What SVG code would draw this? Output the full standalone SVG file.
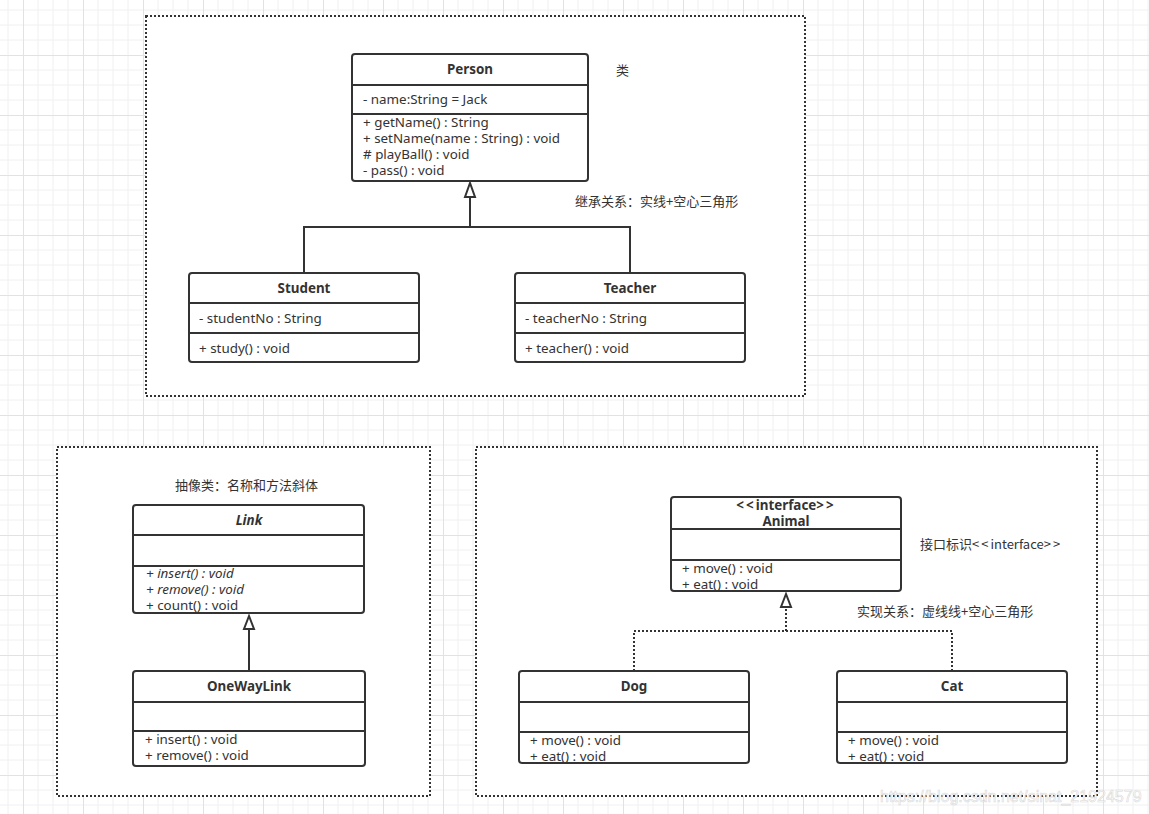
<svg xmlns="http://www.w3.org/2000/svg" width="1149" height="814" viewBox="0 0 1149 814">
<defs>
<pattern id="grid" patternUnits="userSpaceOnUse" x="23" y="55" width="60" height="60">
<path d="M15 0V60M30 0V60M45 0V60M0 15H60M0 30H60M0 45H60" stroke="#f0f0f0" stroke-width="1" fill="none"/>
<path d="M0.5 0V60M0 0.5H60" stroke="#e2e2e2" stroke-width="1" fill="none"/>
</pattern>
</defs>
<style>
.frame{fill:#fff;stroke:#333;stroke-width:2;stroke-dasharray:2 2}
.box{fill:#fff;stroke:#333;stroke-width:2}
.div{stroke:#333;stroke-width:2}
.t{font-family:"Noto Sans","Noto Sans CJK SC",sans-serif;font-size:13.4px;fill:#333}
.b{font-weight:bold;text-anchor:middle}
.cjk{font-family:"Noto Sans CJK SC","Noto Sans",sans-serif;font-size:13px;fill:#333}
.conn{fill:none;stroke:#333;stroke-width:2}
.dash{stroke-dasharray:2 2}
.tri{fill:#fff;stroke:#333;stroke-width:2}
.ls{letter-spacing:2px}
</style>
<rect width="1149" height="814" fill="#fff"/>
<rect width="1149" height="814" fill="url(#grid)"/>

<g id="frames">
<rect class="frame" x="146" y="16" width="659" height="380"/>
<rect class="frame" x="57" y="447" width="373" height="349"/>
<rect class="frame" x="476" y="447" width="621" height="349"/>
</g>

<g id="labels">
<text class="cjk" x="616" y="75">类</text>
<text class="cjk" x="575" y="206">继承关系：实线+空心三角形</text>
<text class="cjk" x="175" y="490">抽像类：名称和方法斜体</text>
<text class="cjk" x="920" y="549">接口标识<tspan class="ls">&lt;&lt;</tspan>interface<tspan class="ls">&gt;&gt;</tspan></text>
<text class="cjk" x="857" y="616">实现关系：虚线线+空心三角形</text>
</g>

<g id="connectors">
<path class="conn" d="M304 273V227H630V273M470 227V197"/>
<polygon class="tri" points="470,183 465,197 475,197"/>
<path class="conn" d="M249 671V629"/>
<polygon class="tri" points="249,616 244,629 254,629"/>
<path class="conn dash" d="M634 671V631H952V671M786 631V607"/>
<polygon class="tri" points="786,594 781,607 791,607"/>
</g>

<g id="Person">
<rect class="box" x="352" y="54" width="236" height="127" rx="3"/>
<path class="div" d="M352 85H588M352 114H588"/>
<text class="t b" x="470" y="74">Person</text>
<text class="t" x="363" y="104">- name:String = Jack</text>
<text class="t" x="363" y="127">+ getName() : String</text>
<text class="t" x="363" y="143">+ setName(name : String) : void</text>
<text class="t" x="363" y="159"># playBall() : void</text>
<text class="t" x="363" y="175">- pass() : void</text>
</g>

<g id="Student">
<rect class="box" x="189" y="273" width="230" height="89" rx="3"/>
<path class="div" d="M189 303H419M189 333H419"/>
<text class="t b" x="304" y="293">Student</text>
<text class="t" x="199" y="323">- studentNo : String</text>
<text class="t" x="199" y="353">+ study() : void</text>
</g>

<g id="Teacher">
<rect class="box" x="515" y="273" width="230" height="89" rx="3"/>
<path class="div" d="M515 303H745M515 333H745"/>
<text class="t b" x="630" y="293">Teacher</text>
<text class="t" x="525" y="323">- teacherNo : String</text>
<text class="t" x="525" y="353">+ teacher() : void</text>
</g>

<g id="Link">
<rect class="box" x="133" y="505" width="231" height="108" rx="3"/>
<path class="div" d="M133 535H364M133 566H364"/>
<text class="t b" x="249" y="525" font-style="italic">Link</text>
<text class="t" x="146" y="578" font-style="italic">+ insert() : void</text>
<text class="t" x="146" y="594" font-style="italic">+ remove() : void</text>
<text class="t" x="146" y="610">+ count() : void</text>
</g>

<g id="OneWayLink">
<rect class="box" x="133" y="671" width="232" height="95" rx="3"/>
<path class="div" d="M133 702H365M133 731H365"/>
<text class="t b" x="249" y="691">OneWayLink</text>
<text class="t" x="145" y="744">+ insert() : void</text>
<text class="t" x="145" y="760">+ remove() : void</text>
</g>

<g id="Animal">
<rect class="box" x="671" y="497" width="230" height="94" rx="3"/>
<path class="div" d="M671 529H901M671 560H901"/>
<text class="t b" x="786" y="510"><tspan class="ls">&lt;&lt;</tspan>interface<tspan class="ls">&gt;&gt;</tspan></text>
<text class="t b" x="786" y="526">Animal</text>
<text class="t" x="682" y="573">+ move() : void</text>
<text class="t" x="682" y="589">+ eat() : void</text>
</g>

<g id="Dog">
<rect class="box" x="519" y="671" width="230" height="92" rx="3"/>
<path class="div" d="M519 702H749M519 732H749"/>
<text class="t b" x="634" y="691">Dog</text>
<text class="t" x="530" y="745">+ move() : void</text>
<text class="t" x="530" y="761">+ eat() : void</text>
</g>

<g id="Cat">
<rect class="box" x="837" y="671" width="230" height="92" rx="3"/>
<path class="div" d="M837 702H1067M837 732H1067"/>
<text class="t b" x="952" y="691">Cat</text>
<text class="t" x="848" y="745">+ move() : void</text>
<text class="t" x="848" y="761">+ eat() : void</text>
</g>

<text x="880" y="802" font-family="Liberation Sans, sans-serif" font-size="16" fill="#ffffff" fill-opacity="0.6" stroke="#c8c8c8" stroke-width="0.6" stroke-opacity="0.7">https://blog.csdn.net/sinat_21924579</text>
</svg>
